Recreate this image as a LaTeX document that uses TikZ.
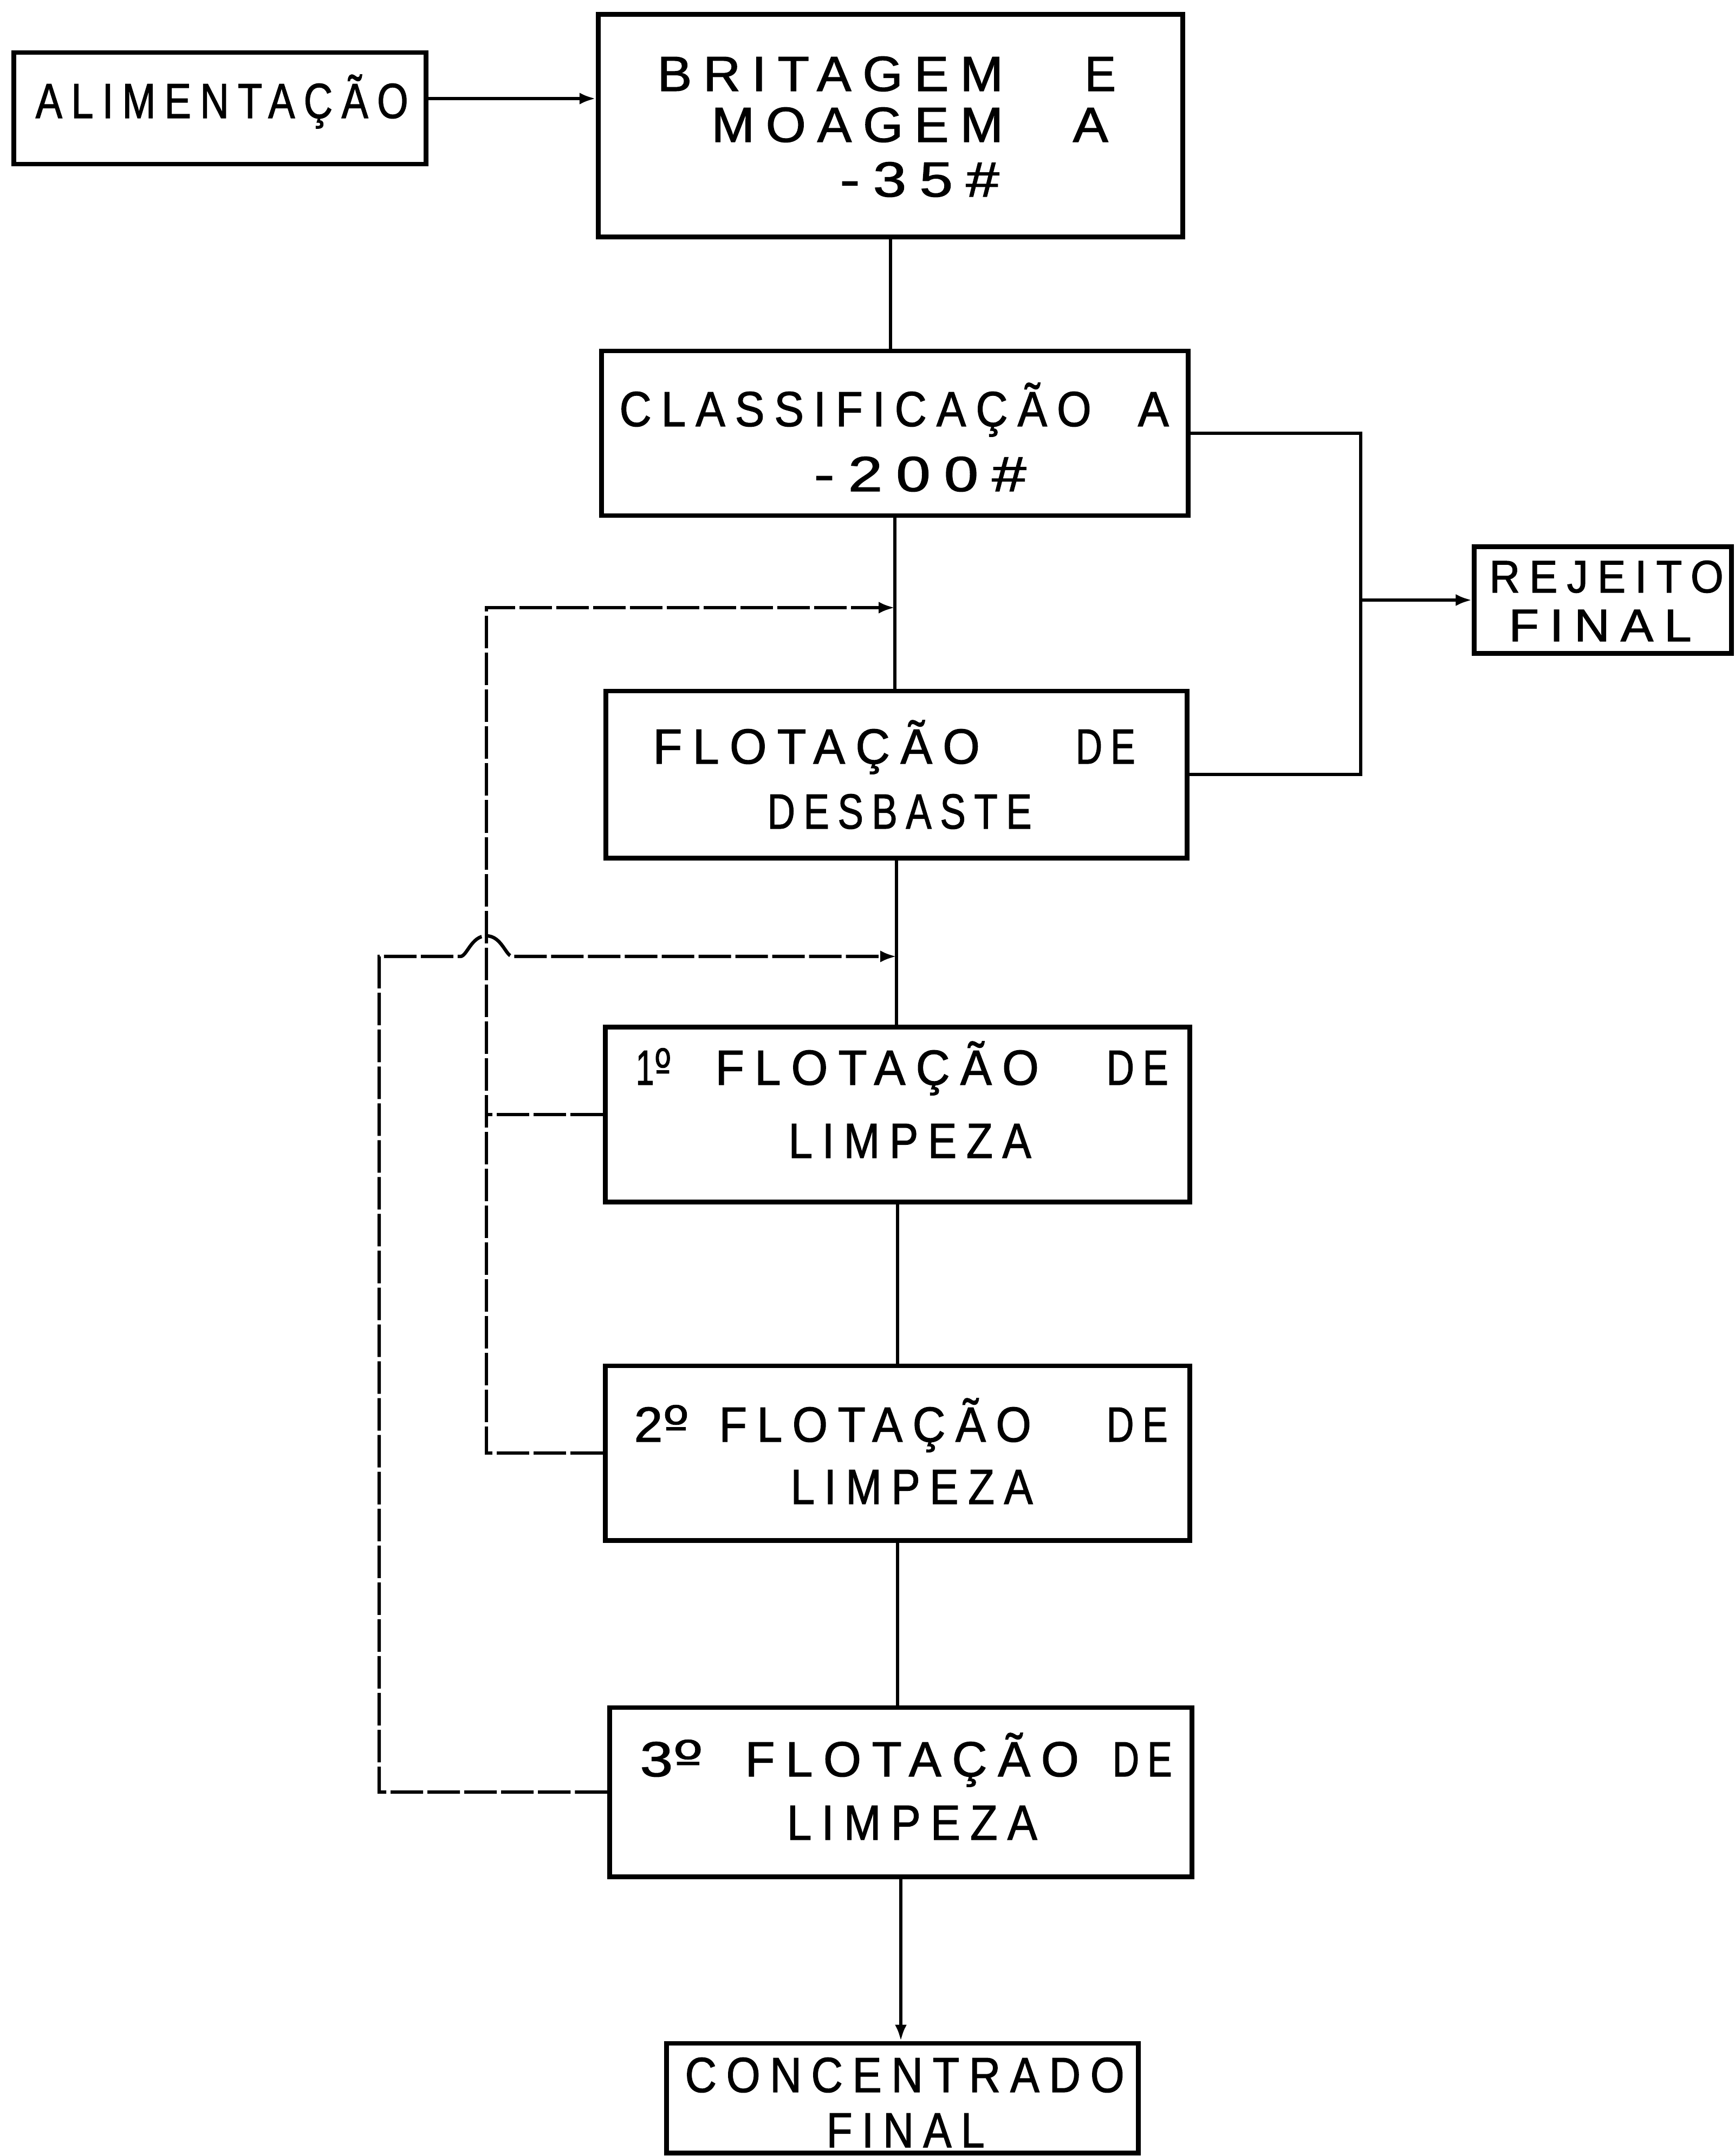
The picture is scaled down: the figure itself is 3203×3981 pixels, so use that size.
\documentclass[tikz,border=0pt]{standalone}
\usepackage{fontspec}
\usepackage{graphicx}
\usetikzlibrary{arrows.meta}
\newfontfamily\lettering{Liberation Sans}[FakeStretch=0.72,LetterSpace=16,FakeBold=1.2]
\newfontfamily\ordfont{DejaVu Sans}[FakeStretch=0.8,FakeBold=0.8]
\newlength\pxu
\setlength\pxu{0.01cm}
\newcommand\fitw[2]{\resizebox{#1\pxu}{\height}{#2}}
\newcommand\ordo{{\ordfont º}}
\begin{document}
\begin{tikzpicture}[x=0.01cm,y=-0.01cm,
  boxn/.style={draw, line width=2.5pt, inner sep=0pt},
  txt/.style={inner sep=0pt, anchor=base west, font=\lettering\fontsize{26}{30}\selectfont},
  smalltxt/.style={txt, font=\lettering\fontsize{24}{28}\selectfont},
  conn/.style={line width=1.8pt},
  ret/.style={line width=1.8pt, dash pattern=on 0.6cm off 0.08cm},
  arrowed/.style={-{Latex[length=0.3cm,width=0.22cm]}}]
\fill[white] (0,0) rectangle (3203,3981);
\useasboundingbox (0,0) rectangle (3203,3981);

% boxes
\node[boxn, minimum width=7.60cm, minimum height=2.06cm] (alim) at (406,200) {};
\node[boxn, minimum width=10.79cm, minimum height=4.10cm] (brit) at (1644,232) {};
\node[boxn, minimum width=10.83cm, minimum height=3.04cm] (cls) at (1652,800) {};
\node[boxn, minimum width=4.74cm, minimum height=1.97cm] (rej) at (2959,1108) {};
\node[boxn, minimum width=10.72cm, minimum height=3.08cm] (desb) at (1655,1430) {};
\node[boxn, minimum width=10.78cm, minimum height=3.23cm] (b1) at (1657,2058) {};
\node[boxn, minimum width=10.78cm, minimum height=3.22cm] (b2) at (1657,2683) {};
\node[boxn, minimum width=10.74cm, minimum height=3.12cm] (b3) at (1663,3309) {};
\node[boxn, minimum width=8.71cm, minimum height=2.02cm] (conc) at (1666,3874) {};

% texts
\node[txt] (alimT) at (65,218) {\fitw{688}{ALIMENTAÇÃO}};
\node[txt] (brit1) at (1213,168) {\fitw{638}{BRITAGEM}\hspace{151\pxu}\fitw{57}{E}};
\node[txt] (brit2) at (1313,262) {\fitw{538}{MOAGEM}\hspace{129\pxu}\fitw{65}{A}};
\node[txt] (brit3) at (1550,363) {\fitw{294}{-35\#}};
\node[txt] (cls1) at (1143,787) {\fitw{871}{CLASSIFICAÇÃO}\hspace{86\pxu}\fitw{57}{A}};
\node[txt] (cls2) at (1502,907) {\fitw{392}{-200\#}};
\node[smalltxt] (rej1) at (2749,1094) {\fitw{432}{REJEITO}};
\node[smalltxt] (rej2) at (2785,1184) {\fitw{337}{FINAL}};
\node[txt] (desb1) at (1205,1410) {\fitw{603}{FLOTAÇÃO}\hspace{177\pxu}\fitw{110}{DE}};
\node[txt] (desb2) at (1416,1530) {\fitw{488}{DESBASTE}};
\node[txt] (l1a) at (1173,2003) {\fitw{66}{1\ordo}\hspace{81\pxu}\fitw{597}{FLOTAÇÃO}\hspace{125\pxu}\fitw{114}{DE}};
\node[txt] (l1b) at (1455,2138) {\fitw{448}{LIMPEZA}};
\node[txt] (l2a) at (1170,2662) {\fitw{102}{2\ordo}\hspace{55\pxu}\fitw{576}{FLOTAÇÃO}\hspace{139\pxu}\fitw{113}{DE}};
\node[txt] (l2b) at (1459,2777) {\fitw{447}{LIMPEZA}};
\node[txt] (l3a) at (1181,3280) {\fitw{117}{3\ordo}\hspace{77\pxu}\fitw{616}{FLOTAÇÃO}\hspace{62\pxu}\fitw{110}{DE}};
\node[txt] (l3b) at (1452,3397) {\fitw{462}{LIMPEZA}};
\node[txt] (conc1) at (1264,3863) {\fitw{811}{CONCENTRADO}};
\node[txt] (conc2) at (1525,3965) {\fitw{292}{FINAL}};

% helper coordinates
\coordinate (ya) at (0,182);
\coordinate (y1) at (0,1122);
\coordinate (y2) at (0,1766);
\coordinate (c1) at (898,1122);
\coordinate (c2) at (700,1766);
\coordinate (cr) at (2512,1108);
\coordinate (j1) at (cls.south |- y1);
\coordinate (j2) at (desb.south |- y2);
\coordinate (h1) at (850,1766);
\coordinate (hp) at (898,1728);
\coordinate (h2) at (946,1766);

% main line
\draw[conn, arrowed] (alim.east |- ya) -- (brit.west |- ya);
\draw[conn] (brit.south) -- (brit.south |- cls.north);
\draw[conn] (cls.south) -- (cls.south |- desb.north);
\draw[conn] (desb.south) -- (desb.south |- b1.north);
\draw[conn] (b1.south) -- (b1.south |- b2.north);
\draw[conn] (b2.south) -- (b2.south |- b3.north);
\draw[conn, arrowed] (b3.south) -- (b3.south |- conc.north);

% reject line
\draw[conn] (cls.east) -| (cr) |- (desb.east);
\draw[conn, arrowed] (cr |- rej.west) -- (rej.west);

% recycle lines
\draw[ret, arrowed] (b2.west) -| (c1) -- (j1);
\draw[ret] (b1.west) -- (b1.west -| c1);
\draw[ret, arrowed] (b3.west) -| (c2) -- (h1)
  .. controls (862,1766) and (870,1728) .. (hp)
  .. controls (926,1728) and (934,1766) .. (h2) -- (j2);
\end{tikzpicture}
\end{document}
